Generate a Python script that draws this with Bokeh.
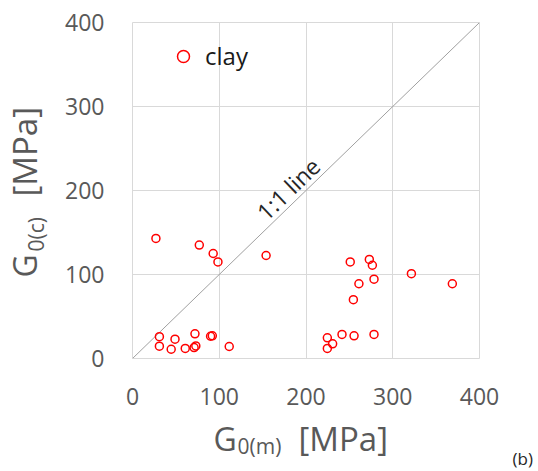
import math
from bokeh.plotting import figure
from bokeh.models import Label, Legend, LegendItem, Range1d, ColumnDataSource
from bokeh.core.properties import value
from bokeh.embed import file_html
from bokeh.resources import INLINE

# ---- data ----
g0_m = [27, 77, 93, 98.5, 154, 31, 49, 72, 90, 92, 31, 44.6, 60.8, 71, 73, 111.5,
        251, 273, 276.5, 278.4, 261, 254.6, 321.5, 368.7, 224.6, 230.7, 224.6, 241.5, 255.4, 278.4]
g0_c = [143, 135, 125, 115, 122.6, 26, 23, 29.4, 26.5, 27, 14.7, 11, 12, 13, 15, 14.3,
        115, 118, 111, 94.4, 89, 70, 101, 89, 24.6, 17.5, 12, 28.6, 27, 28.6]
line_x = [0, 400]
line_y = [0, 400]
ticks = [0, 100, 200, 300, 400]
series_name = "clay"
x_title = ["G", "0(m)", "[MPa]"]
y_title = ["G", "0(c)", "[MPa]"]
panel_tag = "(b)"
diag_text = "1:1 line"

XMIN, XMAX, YMIN, YMAX = 0, 400, 0, 400
FONT = "Open Sans"
GREY = "#595959"
DARK = "#262626"

p = figure(width=538, height=471, output_backend="svg", toolbar_location=None,
           x_range=Range1d(XMIN, XMAX), y_range=Range1d(YMIN, YMAX),
           min_border_left=132, min_border_right=59, min_border_top=22, min_border_bottom=113)
p.background_fill_color = "white"
p.border_fill_color = "white"
p.outline_line_color = "#d9d9d9"
p.outline_line_width = 1

for ax in (p.xaxis[0], p.yaxis[0]):
    ax.ticker = ticks
    ax.axis_line_color = None
    ax.major_tick_line_color = None
    ax.minor_tick_line_color = None
    ax.major_tick_out = 0
    ax.major_tick_in = 0
    ax.major_label_text_font = FONT
    ax.major_label_text_font_size = "23px"
    ax.major_label_text_color = GREY
p.xaxis.major_label_standoff = 29
p.yaxis.major_label_standoff = 28

p.xgrid.ticker = ticks
p.ygrid.ticker = ticks
p.xgrid.grid_line_color = "#d9d9d9"
p.ygrid.grid_line_color = "#d9d9d9"

p.line(line_x, line_y, line_color="#a0a0a0", line_width=1)
r = p.scatter(g0_m, g0_c, marker="circle", size=8, fill_color=None,
              line_color="#ff0000", line_width=1.5)

legend = Legend(items=[LegendItem(label=series_name, renderers=[r])],
                location=(36, 286), glyph_width=30, glyph_height=30,
                label_standoff=7, padding=0, margin=0, spacing=0,
                border_line_color=None, background_fill_alpha=0,
                label_text_font=FONT, label_text_font_size="24px",
                label_text_color="#1a1a1a")
p.add_layout(legend)

# 1:1 line label (inside the plot area)
p.add_layout(Label(x=128, y=143, x_units="screen", y_units="screen", text=diag_text,
                   text_font=FONT, text_font_size="23px", text_color=DARK,
                   text_align="left", text_baseline="alphabetic",
                   angle=math.radians(44)))

# texts outside the plot area: a text glyph on the overlay level (not clipped),
# anchored at the axes' origin and shifted in screen pixels
rot = math.pi / 2
outside = ColumnDataSource(dict(
    text=[x_title[0], x_title[1], x_title[2], y_title[0], y_title[1], y_title[2], panel_tag],
    xo=[81, 105, 166, -108, -97, -108, 380],
    yo=[80, 87, 80, -81, -107, -162, 100],
    size=["32px", "21px", "33px", "32px", "21px", "33px", "17px"],
    angle=[0, 0, 0, rot, rot, rot, 0],
    color=[GREY, GREY, GREY, GREY, GREY, GREY, DARK],
))
outside.data["x"] = [XMIN] * len(outside.data["text"])
outside.data["y"] = [YMIN] * len(outside.data["text"])
p.text(x="x", y="y", text="text", source=outside, level="overlay",
       x_offset="xo", y_offset="yo", angle="angle",
       text_font=value(FONT), text_font_size="size", text_color="color",
       text_align="left", text_baseline="alphabetic")

open("out.html", "w").write(file_html(p, INLINE))
